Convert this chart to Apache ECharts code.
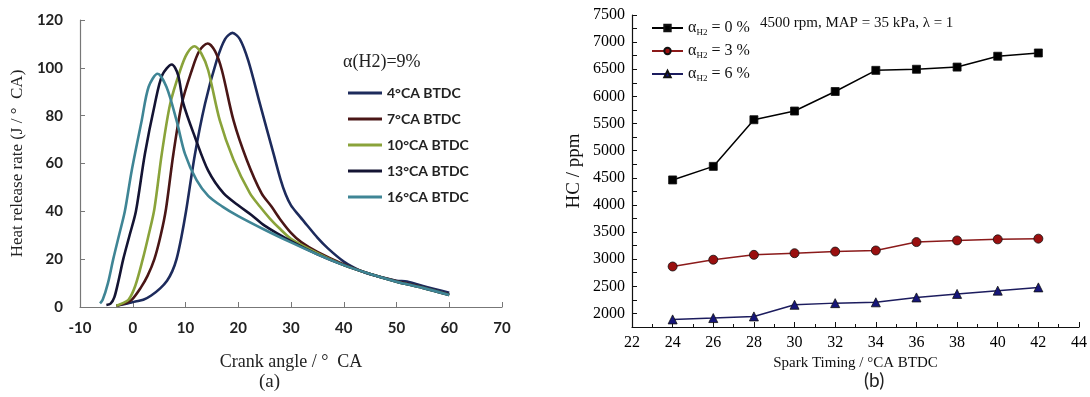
<!DOCTYPE html>
<html><head><meta charset="utf-8">
<script src="https://cdn.jsdelivr.net/npm/echarts@6/dist/echarts.min.js"></script>
<style>html,body{margin:0;padding:0;background:#fff}#c{width:1090px;height:397px}</style>
</head><body><div id="c"></div>
<script>
// ---------- Panel (a): heat release rate vs crank angle ----------
const leftNames = ['4°CA BTDC', '7°CA BTDC', '10°CA BTDC', '13°CA BTDC', '16°CA BTDC'];
const hrr4 = [[-3.1,0.5],[-1,1.5],[0.5,2.3],[2,3],[3.5,4.8],[5.2,7.8],[6.5,11],[7.5,15],[8.3,20],[9.2,29],[10.1,40],[11.8,64],[13.7,85],[15.9,103],[17.5,112],[18.9,114.6],[20.3,112],[21.9,103],[24.1,85],[26.7,64],[28,53.5],[29,47],[30,42.5],[31.5,38.3],[33,34.3],[35,29],[37,24.5],[40,19],[43,15.3],[45,13.7],[50,11],[52,10.7],[55,8.8],[60,6]];
const hrr7 = [[-3.1,0.5],[-1.5,1.5],[-0.2,3],[1.5,8],[2.8,13],[4.1,20],[5.3,30],[6.3,41],[7.7,64],[9.3,85],[11.2,99],[12.6,107],[14.2,110.2],[15.6,107],[16.9,99],[19.1,78],[21.6,61.6],[24.4,47.6],[26.3,42],[28,36.5],[30,31],[32,27],[35,23],[40,17.8],[45,13.8],[50,10.8],[55,8.2],[60,5.2]];
const hrr10 = [[-3.1,0.5],[-2,1.5],[-0.8,3],[0.5,9],[1.9,20],[3,30],[4.1,41],[5.5,64],[7.1,85],[9,99],[10.3,106],[11.7,109],[13,106],[14.3,99],[16.5,78],[19.1,61.6],[22.2,47.6],[24.1,42],[26,37],[28,32.5],[30,28.5],[35,22.5],[40,17.5],[45,13.8],[50,10.6],[55,8],[60,5]];
const hrr13 = [[-5.0,0.8],[-4.2,1.4],[-3.5,4],[-2.7,11],[-1.8,20],[-0.6,30],[0.6,40],[2.3,64],[4.2,85],[5.6,97],[7.4,101.4],[8.6,97],[9.6,85],[11.8,71],[14.3,57],[17.2,47.6],[20.3,42],[22.5,38.5],[25,34],[30,27.5],[35,22],[40,17.5],[45,13.8],[50,10.6],[55,8],[60,5]];
const hrr16 = [[-6.2,1.5],[-5.7,3],[-4.7,10],[-3.7,20],[-2.6,30],[-1.5,40],[-0.2,57],[1.7,78],[3,92],[4.7,97.5],[6.4,92],[8.3,78],[9.9,64],[12.1,53],[14.3,46.5],[17,42],[20,38],[25,32.3],[30,27],[35,22],[40,17.5],[45,13.8],[50,10.6],[55,8],[60,5]];
const leftColors = ['#1d2b5c', '#4a1616', '#8aa33a', '#141433', '#3f8595'];

// ---------- Panel (b): HC vs spark timing ----------
const sparkTiming = [24, 26, 28, 30, 32, 34, 36, 38, 40, 42];
const hc0 = [4460, 4710, 5570, 5730, 6090, 6480, 6500, 6540, 6740, 6800];
const hc3 = [2865, 2990, 3080, 3110, 3140, 3160, 3315, 3345, 3365, 3378];
const hc6 = [1890, 1915, 1945, 2160, 2190, 2205, 2295, 2360, 2420, 2480];
const rightNames = ['0', '3', '6'];

const serif = 'Liberation Serif';
const chart = echarts.init(document.getElementById('c'), null, {renderer: 'canvas'});

function leftSeries(name, data, color) {
  return {name: name, type: 'line', xAxisIndex: 0, yAxisIndex: 0, data: data,
    smooth: 0.3, showSymbol: false, symbol: 'none',
    lineStyle: {color: color, width: 2.6}, itemStyle: {color: color}};
}
function rightSeries(name, data, symbol, fill, lineColor, size) {
  return {name: name, type: 'line', xAxisIndex: 1, yAxisIndex: 1,
    data: sparkTiming.map((x, i) => [x, data[i]]),
    symbol: symbol, symbolSize: size,
    lineStyle: {color: lineColor, width: 1.5},
    itemStyle: {color: fill, borderColor: '#111', borderWidth: 0.8}};
}

const option = {
  animation: false,
  backgroundColor: '#fff',
  grid: [
    {left: 80, right: 588, top: 20, bottom: 90},
    {left: 632, right: 11, top: 15, bottom: 70}
  ],
  xAxis: [
    {type: 'value', gridIndex: 0, min: -10, max: 70, interval: 10,
      name: 'Crank angle / °  CA', nameLocation: 'middle', nameGap: 46,
      nameTextStyle: {fontFamily: serif, fontSize: 18, color: '#222'},
      axisLine: {onZero: false, lineStyle: {color: '#777', width: 1.2}},
      axisTick: {inside: true, length: 5, lineStyle: {color: '#777'}},
      axisLabel: {fontFamily: 'Lato', fontWeight: 'bold', fontSize: 15, color: '#222', margin: 14},
      splitLine: {show: false}},
    {type: 'value', gridIndex: 1, min: 22, max: 44, interval: 2,
      name: 'Spark Timing / °CA BTDC', nameLocation: 'middle', nameGap: 28,
      nameTextStyle: {fontFamily: serif, fontSize: 15, color: '#111'},
      axisLine: {onZero: false, lineStyle: {color: '#111', width: 1.2}},
      axisTick: {inside: true, length: 5, lineStyle: {color: '#111'}},
      minorTick: {show: true, splitNumber: 2, length: 3, lineStyle: {color: '#111'}},
      axisLabel: {fontFamily: serif, fontSize: 16, color: '#000', margin: 8},
      splitLine: {show: false}}
  ],
  yAxis: [
    {type: 'value', gridIndex: 0, min: 0, max: 120, interval: 20,
      name: 'Heat release rate (J / °  CA)', nameLocation: 'middle', nameGap: 54,
      nameTextStyle: {fontFamily: serif, fontSize: 17, color: '#222'},
      axisLine: {show: true, onZero: false, lineStyle: {color: '#777', width: 1.2}},
      axisTick: {show: true, inside: true, length: 5, lineStyle: {color: '#777'}},
      axisLabel: {fontFamily: 'Lato', fontWeight: 'bold', fontSize: 15, color: '#222', margin: 17},
      splitLine: {show: false}},
    {type: 'value', gridIndex: 1, min: 1750, max: 7500, interval: 250,
      name: 'HC / ppm', nameLocation: 'middle', nameGap: 48,
      nameTextStyle: {fontFamily: serif, fontSize: 19, color: '#111'},
      axisLine: {show: true, onZero: false, lineStyle: {color: '#111', width: 1.2}},
      axisTick: {show: true, inside: true, length: 5, lineStyle: {color: '#111'}},
      axisLabel: {fontFamily: serif, fontSize: 16, color: '#000', margin: 7,
        formatter: v => (v % 500 === 0 ? String(v) : '')},
      splitLine: {show: false}}
  ],
  legend: [
    {data: leftNames, orient: 'vertical', left: 343, top: 79, itemWidth: 34, itemHeight: 3, itemGap: 8,
      icon: 'rect',
      textStyle: {fontFamily: 'Lato', fontWeight: 'bold', fontSize: 14, color: '#222', lineHeight: 18}},
    {data: rightNames, orient: 'vertical', left: 646, top: 15, itemWidth: 31, itemHeight: 8, itemGap: 6,
      formatter: n => '{a|α}{s|H2}{a| = ' + n + ' %}',
      textStyle: {rich: {
        a: {fontFamily: serif, fontSize: 16, color: '#111', lineHeight: 18},
        s: {fontFamily: serif, fontSize: 9, color: '#111', lineHeight: 9, verticalAlign: 'bottom'}
      }}}
  ],
  graphic: [
    {type: 'text', left: 343, top: 53, style: {text: 'α(H2)=9%', font: '18px "Liberation Serif"', fill: '#222'}},
    {type: 'text', left: 760, top: 16, style: {text: '4500 rpm, MAP = 35 kPa, λ = 1', font: '15px "Liberation Serif"', fill: '#111'}},
    {type: 'text', left: 259, top: 373, style: {text: '(a)', font: '19px "Liberation Serif"', fill: '#222'}},
    {type: 'text', left: 864, top: 371, style: {text: '(b)', font: '19px "Lato"', fill: '#222'}}
  ],
  series: [
    leftSeries(leftNames[0], hrr4, leftColors[0]),
    leftSeries(leftNames[1], hrr7, leftColors[1]),
    leftSeries(leftNames[2], hrr10, leftColors[2]),
    leftSeries(leftNames[3], hrr13, leftColors[3]),
    leftSeries(leftNames[4], hrr16, leftColors[4]),
    rightSeries(rightNames[0], hc0, 'rect', '#000', '#000', 8),
    rightSeries(rightNames[1], hc3, 'circle', '#9a0f0f', '#8b1a1a', 9),
    rightSeries(rightNames[2], hc6, 'triangle', '#16167a', '#1c1c5e', 9)
  ]
};
chart.setOption(option);
</script>
</body></html>
